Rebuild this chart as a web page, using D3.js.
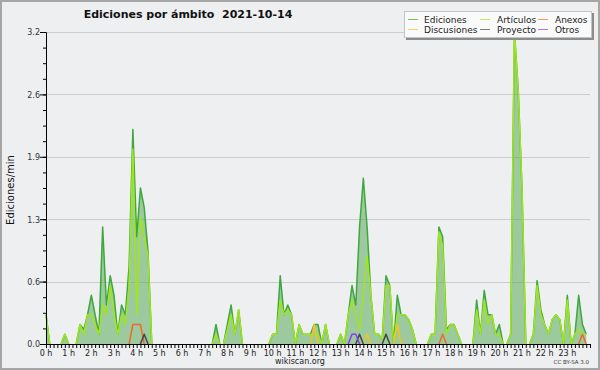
<!DOCTYPE html>
<html>
<head>
<meta charset="utf-8">
<script src="https://cdn.jsdelivr.net/npm/d3@7"></script>
<style>
  body { margin: 0; background: #eeeff1; }
  svg { display: block; font-family: "DejaVu Sans", sans-serif; }
</style>
</head>
<body>
<svg id="chart" width="600" height="370"></svg>
<script>
// one value every 10 minutes, in edits per minute
const slots = d3.range(0, 1440, 10).map(m => m / 60);
const hourLabels = d3.range(24).map(h => h + ' h');
const yTicks = [0, 0.64, 1.28, 1.92, 2.56, 3.2];

const ediciones = [
  0.3, 0, 0, 0, 0, 0.1, 0, 0, 0, 0.2, 0.15, 0.3,
  0.5, 0.3, 0.1, 1.2, 0.4, 0.7, 0.5, 0.1, 0.4, 0.3, 0.8, 2.2,
  1.1, 1.6, 1.4, 0.95, 0, 0, 0, 0, 0, 0, 0, 0,
  0, 0, 0, 0, 0, 0, 0, 0, 0, 0.2, 0, 0,
  0.2, 0.4, 0.1, 0.35, 0, 0, 0, 0, 0, 0, 0, 0,
  0.1, 0.1, 0.7, 0.3, 0.4, 0.3, 0, 0.2, 0.1, 0.1, 0.1, 0.2,
  0.2, 0, 0.2, 0, 0, 0, 0.1, 0, 0.3, 0.6, 0.4, 1.2,
  1.7, 1.2, 0.5, 0.1, 0.1, 0.05, 0.7, 0.6, 0, 0.5, 0.3, 0.3,
  0.25, 0.15, 0, 0, 0, 0, 0.1, 0.1, 1.2, 1.1, 0.15, 0.2,
  0.2, 0.1, 0, 0, 0, 0, 0.45, 0.1, 0.55, 0.3, 0.3, 0.1,
  0.2, 0, 0, 0.1, 3.2, 2.6, 1.6, 0, 0, 0.1, 0.65, 0.35,
  0.2, 0.1, 0.25, 0.3, 0.25, 0, 0.5, 0, 0.1, 0.5, 0.2, 0.1
];
const articulos = [
  0.3, 0, 0, 0, 0, 0.1, 0, 0, 0, 0.2, 0.1, 0.3,
  0.3, 0.2, 0.1, 0.4, 0.3, 0.6, 0.3, 0.1, 0.3, 0.2, 0.6, 2.0,
  0.3, 1.3, 1.1, 0.9, 0, 0, 0, 0, 0, 0, 0, 0,
  0, 0, 0, 0, 0, 0, 0, 0, 0, 0.1, 0, 0,
  0.15, 0.3, 0.1, 0.35, 0, 0, 0, 0, 0, 0, 0, 0,
  0.1, 0.1, 0.45, 0.3, 0.35, 0.3, 0, 0.2, 0.1, 0.1, 0.1, 0.1,
  0.1, 0, 0.2, 0, 0, 0, 0.1, 0, 0.3, 0.45, 0.3, 0.15,
  0.5, 0.9, 0.5, 0.1, 0.1, 0.05, 0.6, 0.6, 0, 0.3, 0.3, 0.3,
  0.25, 0.15, 0, 0, 0, 0, 0.1, 0.1, 1.15, 1.0, 0.1, 0.2,
  0.2, 0.1, 0, 0, 0, 0, 0.35, 0.1, 0.45, 0.2, 0.3, 0.1,
  0.1, 0, 0, 0.1, 3.2, 2.6, 1.6, 0, 0, 0.1, 0.6, 0.3,
  0.2, 0.1, 0.25, 0.3, 0.25, 0, 0.45, 0, 0.1, 0.15, 0.1, 0.1
];
const discusiones = [
  0, 0, 0, 0, 0, 0, 0, 0, 0, 0, 0, 0,
  0, 0, 0, 0, 0, 0, 0, 0, 0, 0, 0, 0,
  0, 0, 0, 0, 0, 0, 0, 0, 0, 0, 0, 0,
  0, 0, 0, 0, 0, 0, 0, 0, 0, 0, 0, 0,
  0, 0, 0, 0, 0, 0, 0, 0, 0, 0, 0, 0,
  0, 0, 0, 0, 0, 0, 0, 0, 0, 0, 0, 0.2,
  0, 0, 0, 0, 0, 0, 0, 0, 0, 0, 0, 0,
  0, 0.1, 0, 0, 0, 0, 0, 0, 0, 0.2, 0, 0,
  0, 0, 0, 0, 0, 0, 0, 0, 0, 0, 0, 0,
  0, 0, 0, 0, 0, 0, 0, 0, 0, 0, 0, 0,
  0, 0, 0, 0, 0, 0, 0, 0, 0, 0, 0, 0,
  0, 0, 0, 0, 0, 0, 0, 0, 0, 0, 0, 0
];
const proyecto = [
  0, 0, 0, 0, 0, 0, 0, 0, 0, 0, 0, 0,
  0, 0, 0, 0, 0, 0, 0, 0, 0, 0, 0, 0,
  0, 0, 0.1, 0, 0, 0, 0, 0, 0, 0, 0, 0,
  0, 0, 0, 0, 0, 0, 0, 0, 0, 0, 0, 0,
  0, 0, 0, 0, 0, 0, 0, 0, 0, 0, 0, 0,
  0, 0, 0, 0, 0, 0, 0, 0, 0, 0, 0, 0,
  0, 0, 0, 0, 0, 0, 0, 0, 0, 0, 0, 0.1,
  0, 0, 0, 0, 0, 0, 0.1, 0, 0, 0, 0, 0,
  0, 0, 0, 0, 0, 0, 0, 0, 0, 0, 0, 0,
  0, 0, 0, 0, 0, 0, 0, 0, 0, 0, 0, 0,
  0, 0, 0, 0, 0, 0, 0, 0, 0, 0, 0, 0,
  0, 0, 0, 0, 0, 0, 0, 0, 0, 0, 0, 0
];
const anexos = [
  0, 0, 0, 0, 0, 0, 0, 0, 0, 0, 0, 0,
  0, 0, 0, 0, 0, 0, 0, 0, 0, 0, 0, 0.2,
  0.2, 0.2, 0, 0, 0, 0, 0, 0, 0, 0, 0, 0,
  0, 0, 0, 0, 0, 0, 0, 0, 0, 0, 0, 0,
  0, 0, 0, 0, 0, 0, 0, 0, 0, 0, 0, 0,
  0, 0, 0, 0, 0, 0, 0, 0, 0, 0, 0, 0,
  0, 0, 0, 0, 0, 0, 0, 0, 0, 0, 0, 0,
  0, 0, 0, 0, 0, 0, 0, 0, 0, 0, 0, 0,
  0, 0, 0, 0, 0, 0, 0, 0, 0, 0.1, 0, 0,
  0, 0, 0, 0, 0, 0, 0, 0, 0, 0, 0, 0,
  0, 0, 0, 0, 0, 0, 0, 0, 0, 0, 0, 0,
  0, 0, 0, 0, 0, 0, 0, 0, 0, 0, 0.1, 0
];
const otros = [
  0, 0, 0, 0, 0, 0, 0, 0, 0, 0, 0, 0,
  0, 0, 0, 0, 0, 0, 0, 0, 0, 0, 0, 0,
  0, 0, 0, 0, 0, 0, 0, 0, 0, 0, 0, 0,
  0, 0, 0, 0, 0, 0, 0, 0, 0, 0, 0, 0,
  0, 0, 0, 0, 0, 0, 0, 0, 0, 0, 0, 0,
  0, 0, 0, 0, 0, 0, 0, 0, 0, 0, 0, 0,
  0, 0, 0, 0, 0, 0, 0, 0, 0, 0.1, 0.1, 0,
  0, 0, 0, 0, 0, 0, 0, 0, 0, 0, 0, 0,
  0, 0, 0, 0, 0, 0, 0, 0, 0, 0, 0, 0,
  0, 0, 0, 0, 0, 0, 0, 0, 0, 0, 0, 0,
  0, 0, 0, 0, 0, 0, 0, 0, 0, 0, 0, 0,
  0, 0, 0, 0, 0, 0, 0, 0, 0, 0, 0, 0
];

// legend order is row by row, three per row
const series = [
  { name: 'Ediciones', values: ediciones, color: '#3ea83e' },
  { name: 'Artículos', values: articulos, color: '#a0e61c' },
  { name: 'Anexos', values: anexos, color: '#ef6a2a' },
  { name: 'Discusiones', values: discusiones, color: '#f2c322' },
  { name: 'Proyecto', values: proyecto, color: '#444444' },
  { name: 'Otros', values: otros, color: '#8b3cf0' }
];
const drawOrder = ['Ediciones', 'Artículos', 'Discusiones', 'Anexos', 'Proyecto', 'Otros'];

const svg = d3.select('#chart');
const x = d3.scaleLinear().domain([0, 24]).range([46, 590]);
const y = d3.scaleLinear().domain([0, 3.2]).range([344, 32]);

svg.append('rect')
  .attr('x', 1).attr('y', 1).attr('width', 598).attr('height', 368)
  .attr('fill', '#eeeff1').attr('stroke', '#a6a6a6').attr('stroke-width', 2);

// grid
svg.append('g').selectAll('line')
  .data(yTicks.slice(1))
  .enter().append('line')
  .attr('x1', 46).attr('x2', 590)
  .attr('y1', d => Math.round(y(d)) + 0.5).attr('y2', d => Math.round(y(d)) + 0.5)
  .attr('stroke', '#cdcdcd');

// total area
const area = d3.area()
  .x((d, i) => x(slots[i]))
  .y0(y(0))
  .y1(d => y(d));
svg.append('path')
  .attr('d', area(ediciones))
  .attr('fill', 'rgb(76,163,75)')
  .attr('fill-opacity', 0.5);

// only the stretches where something happens, so zero runs do not paint the baseline
function runs(vals) {
  const out = [];
  let cur = null;
  for (let i = 0; i < vals.length - 1; i++) {
    if (vals[i] > 0 || vals[i + 1] > 0) {
      if (!cur) { cur = [i]; out.push(cur); }
      cur.push(i + 1);
    } else {
      cur = null;
    }
  }
  return out;
}

drawOrder.forEach(name => {
  const s = series.find(d => d.name === name);
  const line = d3.line()
    .x(i => x(slots[i]))
    .y(i => y(s.values[i]));
  svg.append('g').selectAll('path')
    .data(runs(s.values))
    .enter().append('path')
    .attr('d', line)
    .attr('fill', 'none')
    .attr('stroke', s.color)
    .attr('stroke-width', 1.5)
    .attr('stroke-linejoin', 'round');
});

// axes
const yAxis = svg.append('g').attr('transform', 'translate(46,0)');
yAxis.call(d3.axisLeft(y).tickValues(d3.range(0, 20.5).map(k => k * 0.16))
  .tickSize(3).tickSizeOuter(0).tickFormat(''));
yAxis.call(g => g.selectAll('.tick line').attr('stroke', '#000'));
const yMajor = svg.append('g').attr('transform', 'translate(46,0)')
  .call(d3.axisLeft(y).tickValues(yTicks).tickSize(6).tickSizeOuter(0).tickFormat(d3.format('.1f')));
yMajor.select('.domain').attr('stroke', '#000');
yMajor.selectAll('text').attr('font-family', 'DejaVu Sans').attr('font-size', 8)
  .attr('fill', '#333').attr('x', -6).attr('dy', '0.35em');

const xAxis = svg.append('g').attr('transform', 'translate(0,344)')
  .call(d3.axisBottom(x).tickValues(d3.range(0, 145).map(k => k / 6))
    .tickSize(4).tickSizeOuter(0).tickFormat(''));
xAxis.select('.domain').attr('stroke', '#000');

svg.append('g').selectAll('text')
  .data(hourLabels)
  .enter().append('text')
  .attr('x', (d, i) => x(i))
  .attr('y', 356)
  .attr('text-anchor', 'middle')
  .attr('font-size', 8)
  .attr('fill', '#222')
  .text(d => d);

// titles
svg.append('text')
  .attr('x', 188).attr('y', 18)
  .attr('text-anchor', 'middle')
  .attr('font-size', 11).attr('font-weight', 'bold')
  .attr('fill', '#111')
  .style('white-space', 'pre')
  .text('Ediciones por ámbito  2021-10-14');

svg.append('text')
  .attr('transform', 'translate(14,190) rotate(-90)')
  .attr('text-anchor', 'middle')
  .attr('font-size', 10)
  .attr('fill', '#111')
  .text('Ediciones/min');

svg.append('text')
  .attr('x', 300).attr('y', 364)
  .attr('text-anchor', 'middle')
  .attr('font-size', 8).attr('fill', '#222')
  .text('wikiscan.org');

svg.append('text')
  .attr('x', 589).attr('y', 364)
  .attr('text-anchor', 'end')
  .attr('font-size', 5.5).attr('fill', '#333')
  .text('CC BY-SA 3.0');

// legend
const legend = svg.append('g');
legend.append('rect')
  .attr('x', 406).attr('y', 13).attr('width', 188).attr('height', 27)
  .attr('fill', '#8c8c8c');
legend.append('rect')
  .attr('x', 404.5).attr('y', 11.5).attr('width', 187).attr('height', 26)
  .attr('fill', '#fafafa').attr('stroke', '#c4c4c4');

const colX = [408, 480, 538];
const colText = [424, 497, 555];
const rowY = [19.5, 29.5];
const item = legend.selectAll('g.item')
  .data(series)
  .enter().append('g')
  .attr('class', 'item');
item.append('line')
  .attr('x1', (d, i) => colX[i % 3]).attr('x2', (d, i) => colX[i % 3] + 10)
  .attr('y1', (d, i) => rowY[Math.floor(i / 3)]).attr('y2', (d, i) => rowY[Math.floor(i / 3)])
  .attr('stroke', d => d.color).attr('stroke-width', 1)
  .attr('stroke-opacity', 0.7);
item.append('text')
  .attr('x', (d, i) => colText[i % 3])
  .attr('y', (d, i) => rowY[Math.floor(i / 3)] + 3.2)
  .attr('font-size', 9).attr('fill', '#222')
  .text(d => d.name);
</script>
